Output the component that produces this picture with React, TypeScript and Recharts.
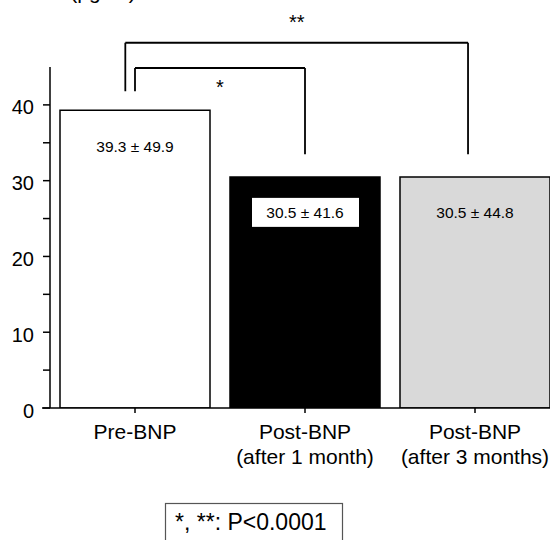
import React from 'react';
import { BarChart, Bar, Cell, XAxis, YAxis, LabelList, ReferenceLine } from 'recharts';

const groups = ['Pre-BNP', 'Post-BNP', 'Post-BNP'];
const groupNotes = ['', '(after 1 month)', '(after 3 months)'];
const meanValues = [39.3, 30.5, 30.5];
const sdValues = [49.9, 41.6, 44.8];
const barFills = ['#ffffff', '#000000', '#d9d9d9'];
const yTicks = [0, 5, 10, 15, 20, 25, 30, 35, 40];
const unitLabel = '(pg/ml)';
const pNote = '*, **: P<0.0001';

const data = meanValues.map((mean, i) => ({ pos: i, mean, sd: sdValues[i] }));

const FONT = "Arial, 'Liberation Sans', sans-serif";

const XTick = (props: any) => {
    const { x, y, payload } = props;
    const i = payload.value;
    return (
        <g>
            <text x={x} y={y + 24} textAnchor="middle" fontSize={21} fontFamily={FONT} fill="#000">{groups[i]}</text>
            {groupNotes[i] && (
                <text x={x} y={y + 49} textAnchor="middle" fontSize={21} fontFamily={FONT} fill="#000">{groupNotes[i]}</text>
            )}
        </g>
    );
};

const YTick = (props: any) => {
    const { x, y, payload } = props;
    if (payload.value % 10 !== 0) return <g />;
    return (
        <text x={x} y={y + 9.5} textAnchor="end" fontSize={20} fontFamily={FONT} fill="#000">{payload.value}</text>
    );
};

const ValueLabel = (props: any) => {
    const { x, y, width, index } = props;
    const cx = x + width / 2;
    const cy = y + 36;
    const txt = `${meanValues[index].toFixed(1)} \u00b1 ${sdValues[index].toFixed(1)}`;
    return (
        <g>
            {index === 1 && <rect x={cx - 53} y={cy - 15} width={107} height={29} fill="#fff" />}
            <text x={cx} y={cy} textAnchor="middle" dominantBaseline="central" fontSize={15.5} fontFamily={FONT} fill="#000">{txt}</text>
        </g>
    );
};

// significance brackets, in data units
const line = { stroke: '#000', strokeWidth: 1.8 };

export default function App() {
    return (
        <div style={{ position: 'fixed', left: 0, top: 0, width: 550, height: 540, overflow: 'hidden', background: '#fff' }}>
            <BarChart width={560} height={540} data={data} margin={{ top: 67, right: 0, left: 0, bottom: 0 }}>
                <XAxis
                    dataKey="pos"
                    type="number"
                    domain={[-0.5, 2.5]}
                    ticks={[0, 1, 2]}
                    axisLine={false}
                    tickLine={{ stroke: '#000', strokeWidth: 1.5 }}
                    tickSize={5}
                    height={132}
                    tick={<XTick />}
                    interval={0}
                />
                <YAxis
                    type="number"
                    domain={[0, 45]}
                    ticks={yTicks}
                    width={50}
                    tickSize={7}
                    tickMargin={9}
                    axisLine={{ stroke: '#000', strokeWidth: 1.5 }}
                    tickLine={{ stroke: '#000', strokeWidth: 1.5 }}
                    tick={<YTick />}
                    interval={0}
                    allowDataOverflow
                />
                <Bar dataKey="mean" barSize={150} stroke="#000" strokeWidth={1.5} isAnimationActive={false}>
                    {data.map((d, i) => (
                        <Cell key={`c-${i}`} fill={barFills[i]} />
                    ))}
                    <LabelList dataKey="mean" content={<ValueLabel />} />
                </Bar>
                <ReferenceLine segment={[{ x: -0.547, y: 0 }, { x: 2.5, y: 0 }]} ifOverflow="visible" stroke="#000" strokeWidth={1.5} />

                <ReferenceLine segment={[{ x: 0, y: 41.8 }, { x: 0, y: 44.87 }]} ifOverflow="visible" {...line} />
                <ReferenceLine
                    segment={[{ x: 0, y: 44.87 }, { x: 1, y: 44.87 }]}
                    ifOverflow="visible"
                    {...line}
                    label={{ value: '*', position: 'bottom', offset: 12, fontSize: 20, fontFamily: FONT, fill: '#000' }}
                />
                <ReferenceLine segment={[{ x: 1, y: 44.87 }, { x: 1, y: 33.5 }]} ifOverflow="visible" {...line} />

                <ReferenceLine segment={[{ x: -0.057, y: 41.8 }, { x: -0.057, y: 48.2 }]} ifOverflow="visible" {...line} />
                <ReferenceLine
                    segment={[{ x: -0.057, y: 48.2 }, { x: 1.959, y: 48.2 }]}
                    ifOverflow="visible"
                    {...line}
                    label={{ value: '**', position: 'top', offset: 14, fontSize: 20, fontFamily: FONT, fill: '#000' }}
                />
                <ReferenceLine segment={[{ x: 1.959, y: 48.2 }, { x: 1.959, y: 33.5 }]} ifOverflow="visible" {...line} />
            </BarChart>
            <svg width={550} height={540} style={{ position: 'absolute', left: 0, top: 0, pointerEvents: 'none' }}>
                {/* unit label sits above the crop, only its descenders show */}
                <text x={103} y={-1} textAnchor="middle" fontSize={21} fontFamily={FONT} fill="#000">{unitLabel}</text>
                <rect x={165.5} y={503.5} width={177} height={60} fill="none" stroke="#555" strokeWidth={1.2} />
                <text x={175} y={530} fontSize={23} fontFamily={FONT} fill="#000">{pNote}</text>
            </svg>
        </div>
    );
}
